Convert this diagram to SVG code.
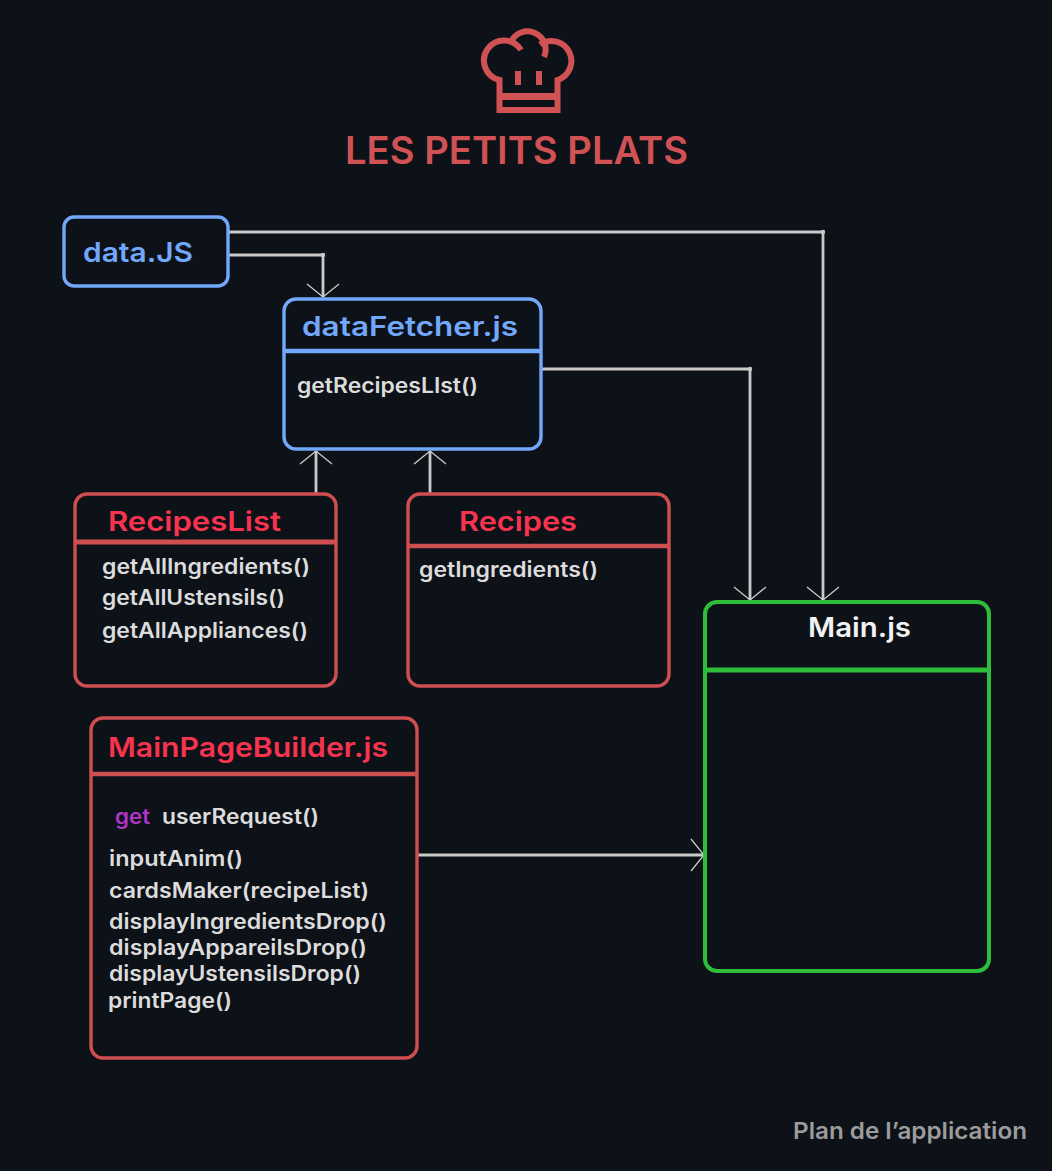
<svg xmlns="http://www.w3.org/2000/svg" width="1052" height="1171" viewBox="0 0 1052 1171">
<style>
text{font-family:"Inter","Liberation Sans",sans-serif;font-weight:600}
.box{fill:none;stroke-width:3.4}
.blue{stroke:#72a8fb}.red{stroke:#cf4f51}.green{stroke:#2fbd3c}
.tb{fill:#72a8fb;font-size:27px}
.tr{fill:#f7344f;font-size:27px}
.tw{fill:#f2f2f2;font-size:27px}
.m{fill:#dcdcdc;font-size:21px}
.c{fill:none;stroke:#c9c9c9;stroke-width:2.8}
.j{fill:#c9c9c9}
.a{fill:none;stroke:#d0d0d0;stroke-width:1.2}
</style>
<defs>
<marker id="arr" markerUnits="userSpaceOnUse" markerWidth="40" markerHeight="40" refX="20" refY="20" orient="auto" viewBox="0 0 40 40">
<path class="a" d="M7 4L20 20L7 36"/>
</marker>
</defs>
<rect width="1052" height="1171" fill="#0d1118"/>
<g id="logo">
<g fill="none" stroke="#d15254" stroke-width="6">
<path d="M521 50A20 20 0 1 0 499.500 80V110H557.500V80A20 20 0 1 0 540 44.500"/>
<path d="M511 42A18 18 0 1 1 544 57"/>
<path d="M499 96.500H558" stroke-width="7"/>
<path d="M518 71V85M539 71V85"/>
</g>
<text x="345" y="164" fill="#d15254" font-size="38" textLength="343" lengthAdjust="spacingAndGlyphs">LES PETITS PLATS</text>
</g>
<g id="connectors">
<path class="c" d="M229 232H823V600" marker-end="url(#arr)"/>
<path class="c" d="M229 255H323V297" marker-end="url(#arr)"/>
<path class="c" d="M542 369H750V600" marker-end="url(#arr)"/>
<path class="c" d="M417 855H704" marker-end="url(#arr)"/>
<path class="c" d="M316 493V451" marker-end="url(#arr)"/>
<path class="c" d="M430 493V451" marker-end="url(#arr)"/>
<circle class="j" cx="823" cy="232" r="2.200"/>
<circle class="j" cx="323" cy="255" r="2.200"/>
<circle class="j" cx="750" cy="369" r="2.200"/>
</g>
<g id="data-js">
<rect class="box blue" x="64" y="217" width="164" height="69" rx="10"/>
<text class="tb" x="83" y="262" textLength="110" lengthAdjust="spacingAndGlyphs">data.JS</text>
</g>
<g id="data-fetcher">
<rect class="box blue" x="284" y="299" width="257" height="150" rx="12"/>
<path class="blue" stroke-width="4.500" d="M284 351H541"/>
<text class="tb" x="302" y="336" textLength="216" lengthAdjust="spacingAndGlyphs">dataFetcher.js</text>
<text class="m" x="297" y="393" textLength="181" lengthAdjust="spacingAndGlyphs">getRecipesLIst()</text>
</g>
<g id="recipes-list">
<rect class="box red" x="75" y="494" width="261" height="192" rx="12"/>
<path class="red" stroke-width="5" d="M75 542H336"/>
<text class="tr" x="108" y="531" textLength="173" lengthAdjust="spacingAndGlyphs">RecipesList</text>
<text class="m" x="102" y="574" textLength="208" lengthAdjust="spacingAndGlyphs">getAllIngredients()</text>
<text class="m" x="102" y="605" textLength="183" lengthAdjust="spacingAndGlyphs">getAllUstensils()</text>
<text class="m" x="102" y="638" textLength="206" lengthAdjust="spacingAndGlyphs">getAllAppliances()</text>
</g>
<g id="recipes">
<rect class="box red" x="408" y="494" width="261" height="192" rx="12"/>
<path class="red" stroke-width="4.500" d="M408 546H669"/>
<text class="tr" x="459" y="531" textLength="118" lengthAdjust="spacingAndGlyphs">Recipes</text>
<text class="m" x="419" y="577" textLength="179" lengthAdjust="spacingAndGlyphs">getIngredients()</text>
</g>
<g id="main-js">
<rect class="box green" style="stroke-width:4" x="705" y="602" width="284" height="369" rx="12"/>
<path class="green" stroke-width="5" d="M705 670H989"/>
<text class="tw" x="808" y="637" textLength="103" lengthAdjust="spacingAndGlyphs">Main.js</text>
</g>
<g id="main-page-builder">
<rect class="box red" x="91" y="718" width="326" height="340" rx="12"/>
<path class="red" stroke-width="4.500" d="M91 774H417"/>
<text class="tr" x="108" y="757" textLength="280" lengthAdjust="spacingAndGlyphs">MainPageBuilder.js</text>
<text class="m" x="115" y="824" textLength="35" lengthAdjust="spacingAndGlyphs" style="fill:#b035c9">get</text>
<text class="m" x="162" y="824" textLength="157" lengthAdjust="spacingAndGlyphs">userRequest()</text>
<text class="m" x="109" y="866" textLength="134" lengthAdjust="spacingAndGlyphs">inputAnim()</text>
<text class="m" x="109" y="898" textLength="260" lengthAdjust="spacingAndGlyphs">cardsMaker(recipeList)</text>
<text class="m" x="109" y="929" textLength="278" lengthAdjust="spacingAndGlyphs">displayIngredientsDrop()</text>
<text class="m" x="109" y="955" textLength="258" lengthAdjust="spacingAndGlyphs">displayAppareilsDrop()</text>
<text class="m" x="109" y="981" textLength="252" lengthAdjust="spacingAndGlyphs">displayUstensilsDrop()</text>
<text class="m" x="108" y="1008" textLength="124" lengthAdjust="spacingAndGlyphs">printPage()</text>
</g>
<text x="793" y="1139" fill="#9c9c9c" font-size="23" textLength="234" lengthAdjust="spacingAndGlyphs">Plan de l’application</text>
</svg>
